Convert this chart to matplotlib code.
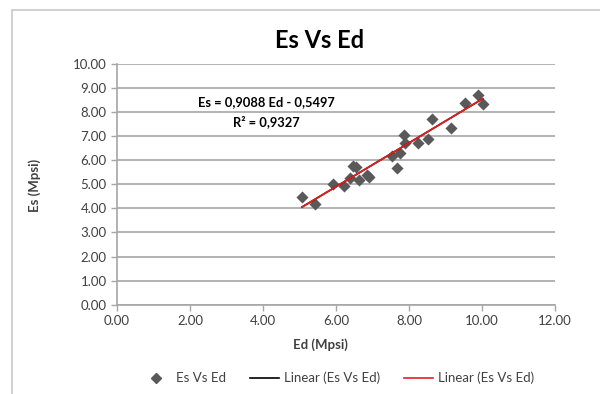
import matplotlib.pyplot as plt
from matplotlib.lines import Line2D
from matplotlib.patches import Rectangle

# Ed (x) and Es (y), Mpsi
ed = [5.07, 5.42, 5.91, 6.23, 6.37, 6.47, 6.55, 6.64, 6.86, 6.90, 7.53,
      7.67, 7.76, 7.87, 7.88, 8.25, 8.53, 8.63, 9.15, 9.54, 9.88, 10.02]
es = [4.48, 4.17, 5.00, 4.93, 5.28, 5.75, 5.73, 5.17, 5.38, 5.32, 6.18,
      5.67, 6.30, 7.07, 6.70, 6.72, 6.90, 7.71, 7.35, 8.40, 8.70, 8.32]

slope = 0.9088
intercept = -0.5497
r2 = 0.9327

x_ticks = [0, 2, 4, 6, 8, 10, 12]
y_ticks = [0, 1, 2, 3, 4, 5, 6, 7, 8, 9, 10]

FONT = ["Lato", "DejaVu Sans"]
plt.rcParams["font.family"] = FONT
TXT = "#404040"
GRID = "#a6a6a6"

fig = plt.figure(figsize=(6.0, 3.94), dpi=100)
fig.patches.append(Rectangle((12 / 600, -0.1), 1.2, 1 - 10 / 394 + 0.1,
                             transform=fig.transFigure, fill=False,
                             edgecolor="#c8c8c8", linewidth=1.2))

ax = fig.add_axes([117 / 600, 1 - 304.7 / 394, (555 - 117) / 600,
                   (304.7 - 64) / 394])

ax.set_xlim(x_ticks[0], x_ticks[-1])
ax.set_ylim(y_ticks[0], y_ticks[-1])
ax.set_xticks(x_ticks)
ax.set_yticks(y_ticks)
ax.set_xticklabels([f"{v:.2f}" for v in x_ticks])
ax.set_yticklabels([f"{v:.2f}" for v in y_ticks])
ax.tick_params(colors=GRID, labelcolor=TXT, labelsize=9.5, length=4,
               direction="out", width=1)
ax.grid(axis="y", color=GRID, linewidth=1.2)
ax.set_axisbelow(True)
for side in ("top", "right"):
    ax.spines[side].set_visible(False)
for side in ("left", "bottom"):
    ax.spines[side].set_color(GRID)
    ax.spines[side].set_linewidth(1.2)

ax.scatter(ed, es, marker="D", s=38, color="#595959", zorder=3,
           linewidths=0)

fit_x = [min(ed), max(ed)]
fit_y = [slope * v + intercept for v in fit_x]
ax.plot(fit_x, fit_y, color="black", linewidth=1.2, zorder=4)
ax.plot(fit_x, fit_y, color="#e02020", linewidth=1.3, zorder=5)

eq = f"Es = {slope:.4f} Ed - {abs(intercept):.4f}".replace(".", ",")
fig.text(266 / 600, 1 - 102.5 / 394, eq, ha="center", va="center",
         fontsize=9.3, fontweight="bold", color="black")
fig.text(266 / 600, 1 - 121.5 / 394, f"R² = {r2:.4f}".replace(".", ","),
         ha="center", va="center", fontsize=9.3, fontweight="bold",
         color="black")

fig.text(320 / 600, 1 - 40 / 394, "Es Vs Ed", ha="center", va="center",
         fontsize=17, fontweight="bold", color="black")
fig.text(35 / 600, 1 - 185 / 394, "Es (Mpsi)", ha="center", va="center",
         rotation=90, fontsize=9.5, fontweight="bold", color=TXT)
fig.text(320 / 600, 1 - 345 / 394, "Ed (Mpsi)", ha="center", va="center",
         fontsize=9.5, fontweight="bold", color=TXT)

handles = [
    Line2D([], [], marker="D", linestyle="none", color="#595959",
           markersize=5),
    Line2D([], [], color="black", linewidth=1.2),
    Line2D([], [], color="#e02020", linewidth=1.2),
]
labels = ["Es Vs Ed", "Linear (Es Vs Ed)", "Linear (Es Vs Ed)"]
fig.legend(handles, labels, loc="center", bbox_to_anchor=(338 / 600, 1 - 378 / 394),
           ncol=3, frameon=False, fontsize=9.5, handlelength=2.2,
           handletextpad=0.4, columnspacing=1.8, labelcolor=TXT)

fig.savefig("out.png", dpi=100)
